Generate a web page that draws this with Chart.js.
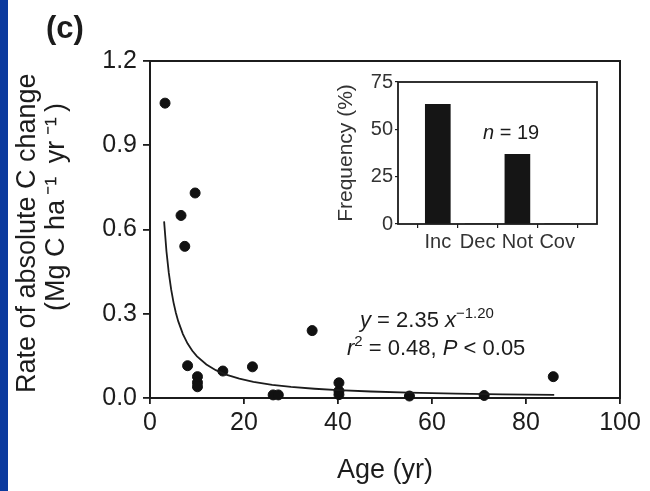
<!DOCTYPE html>
<html>
<head>
<meta charset="utf-8">
<script src="https://cdn.jsdelivr.net/npm/chart.js@4/dist/chart.umd.min.js"></script>
<style>
  body { margin: 0; background: #fff; }
  #wrap { position: relative; width: 650px; height: 491px; overflow: hidden; background: #fff; }
  #main { position: absolute; left: 0; top: 0; }
  #inset { position: absolute; left: 330px; top: 62px; }
  #strip { position: absolute; left: 0; top: 0; width: 8px; height: 491px; background: #0b3a9e; }
</style>
</head>
<body>
<div id="wrap">
  <canvas id="main" width="650" height="491"></canvas>
  <canvas id="inset" width="280" height="200"></canvas>
  <div id="strip"></div>
</div>
<script>
/* --- data --- */

// stand age (yr) and rate of absolute C change (Mg C ha-1 yr-1)
const ages = [3.2, 6.6, 7.4, 9.6, 8.0, 10.1, 10.1, 10.1, 15.5, 21.8,
  26.2, 27.3, 34.5, 40.2, 40.2, 40.2, 55.2, 71.1, 85.8];
const rates = [1.05, 0.65, 0.54, 0.73, 0.115, 0.076, 0.055, 0.04, 0.096, 0.111,
  0.011, 0.011, 0.24, 0.054, 0.025, 0.012, 0.007, 0.009, 0.076];

// power fit y = a * x^b
const fitA = 2.35;
const fitB = -1.20;
const fitAges = [3, 3.5, 4, 4.5, 5, 5.5, 6, 7, 8, 9, 10, 12, 14, 16, 19, 22,
  26, 30, 35, 40, 47, 55, 65, 75, 86];

const xTicks = [0, 20, 40, 60, 80, 100];
const yTicks = [0, 0.3, 0.6, 0.9, 1.2];

// inset: direction of change
const insetCategories = ['', 'Inc', 'Dec', 'Not', 'Cov', ''];
const insetFrequency = [null, 63.2, 0, 36.8, 0, null];
const insetTicks = [0, 25, 50, 75];

/* --- helpers --- */

const FONT = '"Liberation Sans", Arial, Helvetica, sans-serif';
const INK = '#1c1c1c';

const frame = {
  id: 'frame',
  beforeDatasetsDraw(chart, args, opts) {
    const { ctx, chartArea: a } = chart;
    ctx.save();
    ctx.strokeStyle = INK;
    ctx.lineWidth = opts.width || 2;
    ctx.strokeRect(a.left, a.top, a.right - a.left, a.bottom - a.top);
    ctx.restore();
  }
};

// draw a line of text made of plain / italic / superscript pieces
function drawRuns(ctx, x, y, runs, size) {
  runs.forEach(r => {
    const fs = r.sup ? Math.round(size * 0.68) : size;
    ctx.font = (r.italic ? 'italic ' : '') + fs + 'px ' + FONT;
    ctx.fillText(r.t, x, r.sup ? y - size * 0.42 : y);
    x += ctx.measureText(r.t).width;
  });
}

const notes = {
  id: 'notes',
  afterDraw(chart) {
    const { ctx } = chart;
    ctx.save();
    ctx.fillStyle = INK;
    ctx.textBaseline = 'alphabetic';
    ctx.textAlign = 'left';
    ctx.font = 'bold 31px ' + FONT;
    ctx.fillText('(c)', 46, 38);
    drawRuns(ctx, 360, 327, [
      { t: 'y', italic: true }, { t: ' = 2.35 ' },
      { t: 'x', italic: true }, { t: '\u22121.20', sup: true }
    ], 22);
    drawRuns(ctx, 347, 355, [
      { t: 'r', italic: true }, { t: '2', sup: true },
      { t: ' = 0.48, ' }, { t: 'P', italic: true }, { t: ' < 0.05' }
    ], 22);
    ctx.restore();
  }
};

const insetNotes = {
  id: 'insetNotes',
  afterDraw(chart) {
    const { ctx } = chart;
    ctx.save();
    ctx.fillStyle = INK;
    ctx.textBaseline = 'alphabetic';
    drawRuns(ctx, 153, 77, [{ t: 'n', italic: true }, { t: ' = 19' }], 20);
    ctx.restore();
  }
};

/* --- main chart --- */

new Chart(document.getElementById('main'), {
  type: 'scatter',
  data: {
    datasets: [{
      label: 'fit',
      data: fitAges.map(x => ({ x: x, y: fitA * Math.pow(x, fitB) })),
      showLine: true,
      borderColor: INK,
      borderWidth: 1.8,
      pointRadius: 0,
      tension: 0,
      clip: false
    }, {
      label: 'sites',
      data: ages.map((x, i) => ({ x: x, y: rates[i] })),
      backgroundColor: '#111',
      borderColor: '#111',
      pointRadius: 5,
      clip: false
    }]
  },
  options: {
    responsive: false,
    animation: false,
    layout: { padding: { left: 0, top: 61, right: 30, bottom: 0 } },
    plugins: { legend: { display: false }, tooltip: { enabled: false }, frame: { width: 2 } },
    scales: {
      x: {
        type: 'linear', min: 0, max: 100,
        afterBuildTicks: s => { s.ticks = xTicks.map(v => ({ value: v })); },
        afterFit: s => { s.height = 93; },
        grid: { drawOnChartArea: false, color: INK, lineWidth: 1.8, tickLength: 6 },
        border: { display: false },
        ticks: { color: INK, font: { family: FONT, size: 25 }, padding: 4, maxRotation: 0 },
        title: {
          display: true, text: 'Age (yr)', color: INK,
          font: { family: FONT, size: 27, lineHeight: 1.08 },
          padding: { bottom: 6 }
        }
      },
      y: {
        min: 0, max: 1.2,
        afterBuildTicks: s => { s.ticks = yTicks.map(v => ({ value: v })); },
        afterFit: s => { s.width = 150; },
        grid: { drawOnChartArea: false, color: INK, lineWidth: 1.8, tickLength: 7 },
        border: { display: false },
        ticks: { color: INK, font: { family: FONT, size: 25 }, padding: 6, callback: v => v.toFixed(1) },
        title: {
          display: true,
          text: ['Rate of absolute C change ',
            '      (Mg C ha\u2009\u207B\u00B9\u2002yr\u2009\u207B\u00B9\u2009)'],
          color: INK,
          font: { family: FONT, size: 27, lineHeight: 1.08 },
          padding: { top: 13 }
        }
      }
    }
  },
  plugins: [frame, notes]
});

/* --- inset bar chart --- */

new Chart(document.getElementById('inset'), {
  type: 'bar',
  data: {
    labels: insetCategories,
    datasets: [{
      data: insetFrequency,
      backgroundColor: '#151515',
      borderWidth: 0,
      barThickness: 25
    }]
  },
  options: {
    responsive: false,
    animation: false,
    layout: { padding: { left: 0, top: 20, right: 13, bottom: 0 } },
    plugins: { legend: { display: false }, tooltip: { enabled: false }, frame: { width: 1.8 } },
    scales: {
      x: {
        offset: false,
        afterFit: s => { s.height = 38; },
        grid: { drawOnChartArea: false, color: INK, lineWidth: 1.2, tickLength: 4 },
        border: { display: false },
        ticks: { color: '#333', font: { family: FONT, size: 20 }, padding: 2, maxRotation: 0, autoSkip: false }
      },
      y: {
        min: 0, max: 75,
        afterBuildTicks: s => { s.ticks = insetTicks.map(v => ({ value: v })); },
        afterFit: s => { s.width = 68; },
        grid: { drawOnChartArea: false, color: INK, lineWidth: 1.2, tickLength: 3 },
        border: { display: false },
        ticks: { color: '#333', font: { family: FONT, size: 20 }, padding: 2 },
        title: {
          display: true, text: 'Frequency (%)', color: '#333',
          font: { family: FONT, size: 21, lineHeight: 1.2 },
          padding: { top: 4 }
        }
      }
    }
  },
  plugins: [frame, insetNotes]
});
</script>
</body>
</html>
